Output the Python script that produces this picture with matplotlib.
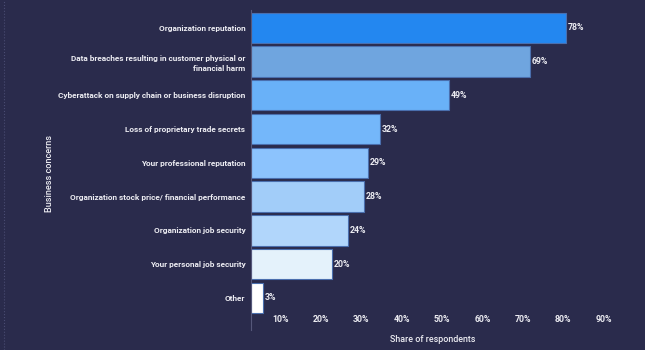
import matplotlib.pyplot as plt
import matplotlib.transforms as mtransforms
from matplotlib.lines import Line2D

categories = [
    "Organization reputation",
    "Data breaches resulting in customer physical or\nfinancial harm",
    "Cyberattack on supply chain or business disruption",
    "Loss of proprietary trade secrets",
    "Your professional reputation",
    "Organization stock price/ financial performance",
    "Organization job security",
    "Your personal job security",
    "Other",
]
shares = [78, 69, 49, 32, 29, 28, 24, 20, 3]
bar_colors = ["#2387f0", "#6fa5df", "#69b1f8", "#74b7fa", "#8cc3fd",
              "#a2cdf9", "#b1d6fb", "#e4f2fb", "#ffffff"]
xticks = [10, 20, 30, 40, 50, 60, 70, 80, 90]

bg = "#2a2b4c"
txt = "#ececf2"
plt.rcParams["font.family"] = ["Roboto", "DejaVu Sans"]

fig = plt.figure(figsize=(6.45, 3.5), dpi=100, facecolor=bg)
ax = fig.add_axes([251 / 645, 20 / 350, 384 / 645, 320 / 350], facecolor=bg)

ypos = list(range(len(categories)))
ax.barh(ypos, shares, height=0.9, color=bar_colors,
        edgecolor="#4a6fae", linewidth=0.8)

for y, v in zip(ypos, shares):
    ax.text(v + 0.4, y, f"{v}%", va="center", ha="left",
            fontsize=6.3, fontweight="bold", color=txt)

ax.set_xlim(0, 95)
ax.set_ylim(8.95, -0.525)

ax.set_yticks(ypos)
ax.set_yticklabels(categories, fontsize=5.95, fontweight="bold", color=txt,
                   ha="right", multialignment="right", linespacing=1.55)
ax.tick_params(axis="y", length=0, pad=4)

ax.set_xticks(xticks)
ax.set_xticklabels([f"{t}%" for t in xticks], fontsize=6.3,
                   fontweight="bold", color=txt)
ax.tick_params(axis="x", length=0, pad=-11)
shift = mtransforms.ScaledTranslation(-11 / 100, 0, fig.dpi_scale_trans)
for lbl in ax.get_xticklabels():
    lbl.set_transform(lbl.get_transform() + shift)

for side in ["top", "right", "bottom"]:
    ax.spines[side].set_visible(False)
ax.spines["left"].set_color("#55577a")
ax.spines["left"].set_linewidth(0.8)

fig.text(433 / 645, 1 - 339 / 350, "Share of respondents", ha="center",
         va="center", fontsize=6.4, fontweight="medium", color=txt)
fig.text(50 / 645, 1 - 174 / 350, "Business concerns", ha="center",
         va="center", rotation=90, fontsize=6.6, fontweight="medium", color=txt)

# faint dotted frame line on the left edge
fig.add_artist(Line2D([4 / 645, 4 / 645], [0, 1], transform=fig.transFigure,
                      color="#4a4c72", linewidth=0.8, linestyle=":"))

fig.savefig("out.png", dpi=100, facecolor=bg)
